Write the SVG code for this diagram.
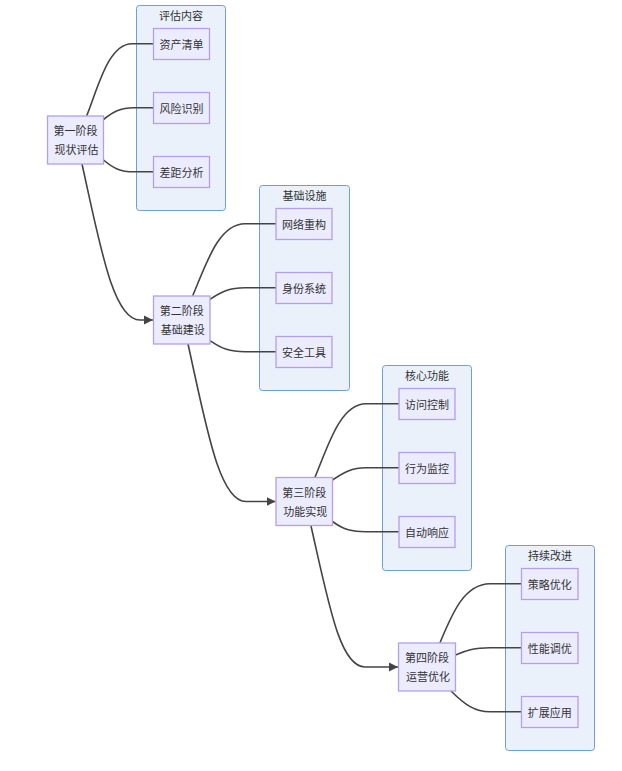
<svg xmlns="http://www.w3.org/2000/svg" width="622" height="771" viewBox="0 0 622 771">
<style>
.cl{fill:#EAF1FB;stroke:#6F9ED3;stroke-width:1}
.nd{fill:#ECECFF;stroke:#B49FE8;stroke-width:1.3}
.t{font-family:"Noto Sans CJK SC","Noto Sans",sans-serif;font-size:11px;fill:#333;text-anchor:middle;dominant-baseline:central}
.e{fill:none;stroke:#444;stroke-width:1.6}
</style>
<defs>
<marker id="ah" markerUnits="userSpaceOnUse" markerWidth="10" markerHeight="10" refX="9" refY="5" orient="auto">
<path d="M0,0.5 L9,5 L0,9.5 z" fill="#444"/>
</marker>
</defs>
<rect width="622" height="771" fill="#fff"/>
<g id="clusters">
<g id="c1"><rect class="cl" x="136.5" y="5.5" width="89" height="205" rx="3"/><text class="t" x="181" y="15">评估内容</text></g>
<g id="c2"><rect class="cl" x="259.5" y="185.5" width="90" height="205" rx="3"/><text class="t" x="304.5" y="195">基础设施</text></g>
<g id="c3"><rect class="cl" x="382.5" y="365.5" width="89" height="205" rx="3"/><text class="t" x="427" y="375">核心功能</text></g>
<g id="c4"><rect class="cl" x="505.5" y="545.5" width="89" height="205" rx="3"/><text class="t" x="550" y="555">持续改进</text></g>
</g>
<g id="edges">
<path class="e" d="M86.7,115.7 C98,88 108,44 132,43.8 L153.5,43.8"/>
<path class="e" d="M103.5,119.5 C113,112 120,107.8 134,107.8 L153.5,107.8"/>
<path class="e" d="M103.5,160 C113,168 120,171.8 134,171.8 L153.5,171.8"/>
<path class="e" d="M192.7,295.7 C206,265 218,224 245,223.8 L276,223.8"/>
<path class="e" d="M210,299.3 C222,291 230,287.8 245,287.8 L276,287.8"/>
<path class="e" d="M210,340.7 C222,349 230,351.8 245,351.8 L276,351.8"/>
<path class="e" d="M315,477.3 C328,446 340,404 366,403.8 L399,403.8"/>
<path class="e" d="M332.5,480 C344,472 352,467.8 366,467.8 L399,467.8"/>
<path class="e" d="M332.5,521.5 C344,530 352,531.8 366,531.8 L399,531.8"/>
<path class="e" d="M440,642.7 C452,614 464,584 490,583.8 L521.5,583.8"/>
<path class="e" d="M455.5,655 C467,650 475,647.8 490,647.8 L521.5,647.8"/>
<path class="e" d="M451,691 C465,705 475,711.8 490,711.8 L521.5,711.8"/>
<path class="e" marker-end="url(#ah)" d="M82,164 C100,245 113,320 140,320 L153,320"/>
<path class="e" marker-end="url(#ah)" d="M188,344 C206,425 219,501.5 246,501.5 L275.5,501.5"/>
<path class="e" marker-end="url(#ah)" d="M311,526 C329,605 340,667 365,667 L398,667"/>
</g>
<g id="p1"><rect class="nd" x="47.5" y="116" width="56" height="48"/><text class="t" x="75.5" y="130">第一阶段</text><text class="t" x="76.5" y="149">现状评估</text></g>
<g id="p2"><rect class="nd" x="153.5" y="296" width="56.5" height="48"/><text class="t" x="181.7" y="310">第二阶段</text><text class="t" x="182.7" y="329">基础建设</text></g>
<g id="p3"><rect class="nd" x="276" y="477.5" width="56.5" height="48"/><text class="t" x="304.2" y="491.5">第三阶段</text><text class="t" x="305.2" y="510.5">功能实现</text></g>
<g id="p4"><rect class="nd" x="398.5" y="643" width="57" height="48"/><text class="t" x="427" y="657">第四阶段</text><text class="t" x="428" y="676">运营优化</text></g>
<g id="n11"><rect class="nd" x="153.5" y="28.5" width="56" height="31"/><text class="t" x="181.5" y="44">资产清单</text></g>
<g id="n12"><rect class="nd" x="153.5" y="92.5" width="56" height="31"/><text class="t" x="181.5" y="108">风险识别</text></g>
<g id="n13"><rect class="nd" x="153.5" y="156.5" width="56" height="31"/><text class="t" x="181.5" y="172">差距分析</text></g>
<g id="n21"><rect class="nd" x="276" y="208.5" width="56" height="31"/><text class="t" x="304" y="224">网络重构</text></g>
<g id="n22"><rect class="nd" x="276" y="272.5" width="56" height="31"/><text class="t" x="304" y="288">身份系统</text></g>
<g id="n23"><rect class="nd" x="276" y="336.5" width="56" height="31"/><text class="t" x="304" y="352">安全工具</text></g>
<g id="n31"><rect class="nd" x="399" y="388.5" width="56" height="31"/><text class="t" x="427" y="404">访问控制</text></g>
<g id="n32"><rect class="nd" x="399" y="452.5" width="56" height="31"/><text class="t" x="427" y="468">行为监控</text></g>
<g id="n33"><rect class="nd" x="399" y="516.5" width="56" height="31"/><text class="t" x="427" y="532">自动响应</text></g>
<g id="n41"><rect class="nd" x="521.5" y="568.5" width="56.5" height="31"/><text class="t" x="549.7" y="584">策略优化</text></g>
<g id="n42"><rect class="nd" x="521.5" y="632.5" width="56.5" height="31"/><text class="t" x="549.7" y="648">性能调优</text></g>
<g id="n43"><rect class="nd" x="521.5" y="696.5" width="56.5" height="31"/><text class="t" x="549.7" y="712">扩展应用</text></g>
</svg>
